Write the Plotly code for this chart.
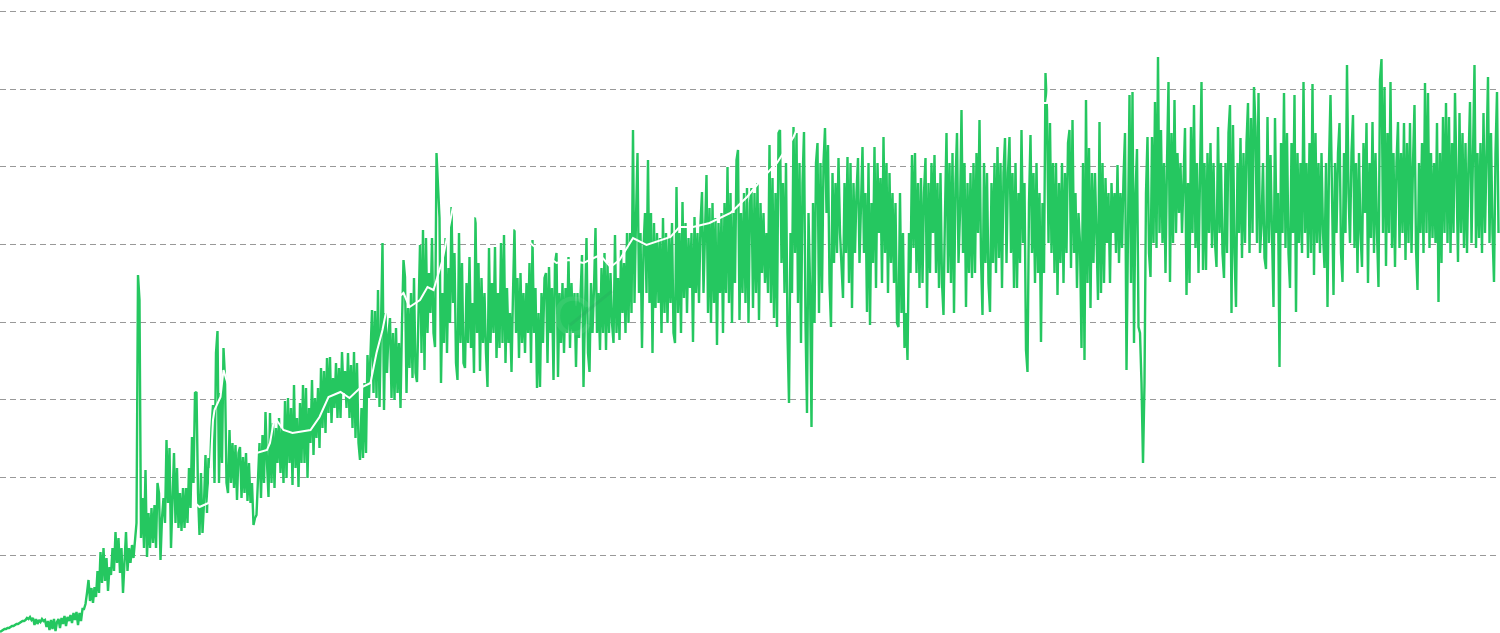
import plotly.graph_objects as go

# Heights, one reading every 1.5 px of width (10 per row, 100 per block)
block_01 = [
1,2,3,4,4,5,5,6,7,7,
8,9,9,10,11,12,12,13,15,14,
16,13,15,8,14,9,13,11,14,12,
13,6,12,3,13,4,14,2,11,14,
5,15,9,17,7,16,12,18,10,20,
13,21,8,20,12,24,24,29,40,53,
32,45,30,46,36,62,40,81,50,85,
52,75,42,66,58,85,62,101,70,95,
60,85,40,70,101,62,85,70,88,75,
90,110,358,333,95,135,85,163,76,120]
block_02 = [
85,125,90,128,85,150,140,73,115,135,
110,193,130,185,85,130,180,110,165,105,
140,102,145,105,145,110,165,125,196,150,
240,241,140,98,160,100,130,178,120,175,
165,205,228,150,280,302,150,240,170,285,
255,150,140,203,150,190,145,188,133,180,
186,135,176,140,180,132,170,130,150,108,
115,118,150,190,135,198,150,221,170,136,
220,150,210,145,205,170,215,160,205,150,
232,155,235,170,225,148,248,165,215,146]
block_03 = [
230,170,248,170,245,155,225,190,253,178,
235,195,245,185,265,205,262,200,275,220,
276,210,255,225,270,215,265,215,281,240,
262,225,280,215,268,205,281,195,270,190,
173,225,175,250,180,278,235,272,323,240,
322,235,343,226,300,390,223,320,260,300,
315,235,300,233,305,240,290,225,310,373,
356,240,325,265,340,255,355,260,251,335,
388,280,403,263,395,300,360,320,395,300,
286,480,453,415,250,340,290,395,280,365]
block_04 = [
310,426,330,380,270,253,400,290,370,270,
265,350,290,376,285,330,260,416,300,370,
262,355,290,340,280,246,385,290,350,300,
386,275,340,285,390,290,398,270,345,290,
320,261,340,405,300,355,275,360,290,340,
280,350,300,370,270,393,300,345,245,320,
246,340,290,355,360,270,366,300,345,253,
370,380,256,340,290,350,280,345,300,376,
285,350,300,340,266,340,295,350,378,246,
330,395,280,261,350,300,345,405,300,340]
block_05 = [
283,365,300,380,283,370,300,360,310,290,
398,300,355,293,383,320,370,300,400,310,
400,320,503,330,415,480,340,400,285,385,
420,340,473,330,420,280,410,325,400,330,
395,300,415,320,400,310,395,330,410,300,
290,446,320,400,300,431,335,410,320,395,
345,400,291,416,340,400,330,410,441,340,
400,458,320,425,310,430,330,415,288,410,
340,420,300,430,340,466,330,440,310,420,
350,473,483,313,420,340,440,330,445,310]
block_06 = [
430,445,325,440,340,450,313,430,360,420,
350,400,340,488,330,455,315,440,306,500,
503,370,450,340,470,300,230,400,340,506,
380,500,330,470,290,450,501,310,220,420,
350,206,430,310,470,490,320,470,340,470,
505,420,488,350,306,460,370,450,380,475,
400,370,335,450,380,476,350,470,325,450,
380,440,475,370,440,486,380,440,321,470,
308,430,370,486,345,470,400,455,350,496,
380,470,340,460,370,440,350,430,310,306]
block_07 = [
440,320,400,285,320,273,400,360,478,385,
480,360,450,345,455,350,440,475,325,450,
360,470,400,478,360,450,345,460,350,318,
420,500,360,470,350,480,320,450,500,370,
420,523,380,470,326,450,360,460,355,470,
360,480,400,513,375,318,470,370,460,350,
321,450,370,470,360,486,375,470,345,460,
495,370,460,496,380,460,345,470,345,440,
370,503,390,450,283,261,430,498,380,460,
350,470,360,440,291,430,360,560,523,390]
block_08 = [
510,380,470,360,470,338,450,370,470,350,
460,380,490,503,365,513,380,440,345,420,
390,285,470,273,533,350,485,325,460,370,
460,380,333,511,340,470,350,455,390,440,
350,450,400,440,380,468,370,440,385,455,
500,263,430,538,350,541,290,440,484,306,
300,250,170,250,440,496,380,356,496,390,
531,385,576,400,503,390,470,360,470,551,
351,500,390,533,400,480,420,470,400,470,
505,338,450,350,506,400,528,385,470,360]
block_09 = [
440,551,363,470,363,480,400,490,385,470,
390,366,506,400,470,380,355,470,380,500,
528,320,508,380,326,470,400,495,375,480,
390,490,530,380,515,400,546,506,390,540,
380,408,470,375,364,516,390,478,400,326,
515,400,440,266,490,400,540,385,500,380,
345,490,400,538,321,480,390,470,380,551,
400,470,375,490,380,549,358,500,390,470,
380,480,400,365,470,326,470,538,440,338,
470,400,480,510,380,351,480,400,568,440]
block_10 = [
390,480,518,385,470,360,480,400,366,490,
420,510,350,470,395,511,380,480,400,346,
553,574,400,546,367,500,400,551,385,480,
366,470,511,385,480,400,510,373,490,390,
510,380,470,528,385,343,470,400,490,380,
550,400,540,385,480,395,470,390,510,331,
480,370,516,400,530,390,516,380,490,400,
540,440,371,520,400,500,385,490,380,470,
531,390,480,568,385,480,395,490,380,520,
400,480,556,390,500,400,351,480,541,400]

green_values = (block_01 + block_02 + block_03 + block_04 + block_05 +
                block_06 + block_07 + block_08 + block_09 + block_10)
green_index = list(range(len(green_values)))

# White overlay series, as (index, height)
white_index = [130,133,139,140,142,143,147,149,151,160,168,171,178,180,183,189,195,207,213,219,227,233,240,247,251,255,258,269,273,280,285,289,295,302,318,320,343,355,371,379,389,400,407,413,422,431,447,453,462,473,487,498,509,518,529,533,627,630,633,650,698,701]
white_values = [130,126,130,150,213,223,236,263,253,215,195,180,183,190,216,203,200,203,216,236,241,235,245,250,280,303,326,340,326,333,346,343,373,426,416,398,405,388,370,373,370,378,366,373,395,388,396,406,406,410,420,436,456,470,496,510,510,506,530,530,530,560]

grid_step = 77.7

fig = go.Figure()
fig.add_trace(go.Scatter(x=green_index, y=green_values, mode="lines",
                         line=dict(color="#25C760", width=2.4), hoverinfo="skip"))
fig.add_trace(go.Scatter(x=white_index, y=white_values, mode="lines",
                         line=dict(color="#FFFFFF", width=2), hoverinfo="skip"))

fig.add_annotation(x=381, y=318, xref="x", yref="y", text="C", showarrow=False,
                   font=dict(family="Liberation Sans", size=56, color="rgba(255,255,255,0.08)"))
fig.add_shape(type="line", x0=380, y0=308, x1=408, y1=342, xref="x", yref="y",
              line=dict(color="rgba(40,150,95,0.2)", width=3), layer="above")

fig.update_layout(
    width=1500, height=633, margin=dict(l=0, r=0, t=0, b=0),
    paper_bgcolor="#FFFFFF", plot_bgcolor="#FFFFFF", showlegend=False,
    xaxis=dict(range=[0, 1000], visible=False, showgrid=False, zeroline=False, fixedrange=True),
    yaxis=dict(range=[0, 633], showticklabels=False, ticks="", zeroline=False, showline=False,
               showgrid=True, tick0=0, dtick=grid_step, gridcolor="#999999", gridwidth=1,
               griddash="6px,4px", fixedrange=True),
)
fig.write_html("out.html", config=dict(displayModeBar=False),
               post_script="document.body.style.margin='0';document.body.style.overflow='hidden';")
